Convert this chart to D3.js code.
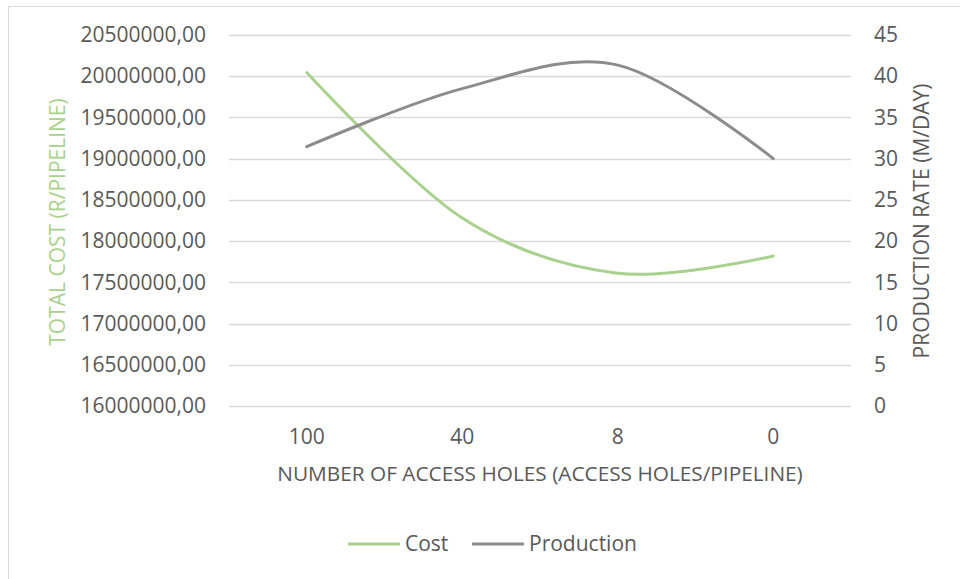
<!DOCTYPE html>
<html>
<head>
<meta charset="utf-8">
<script src="https://cdn.jsdelivr.net/npm/d3@7"></script>
<style>
  html, body { margin: 0; padding: 0; background: #fff; }
  svg text { font-family: "Open Sans", "Noto Sans", sans-serif; }
</style>
</head>
<body>
<svg id="chart" width="960" height="579"></svg>
<script>
// Access holes per pipeline (category order as plotted)
const categories = ["100", "40", "8", "0"];
// Total cost (R/pipeline)
const costValues = [20045000, 18280000, 17610000, 17820000];
// Production rate (m/day)
const productionValues = [31.45, 38.5, 41.35, 30.0];
// Axis ticks
const costTicks = [16000000, 16500000, 17000000, 17500000, 18000000, 18500000, 19000000, 19500000, 20000000, 20500000];
const productionTicks = [0, 5, 10, 15, 20, 25, 30, 35, 40, 45];

const svg = d3.select("#chart");
const plot = { left: 229, right: 851, top: 35, bottom: 406 };

const textGrey = "#595959";
const gridGrey = "#d9d9d9";
const costColor = "#a9d18e";
const prodColor = "#8c8c8c";

// chart frame
svg.append("rect")
  .attr("x", 8.5).attr("y", 6.5)
  .attr("width", 980).attr("height", 600)
  .attr("fill", "#fff").attr("stroke", "#d9d9d9").attr("stroke-width", 1);

const x = d3.scaleBand().domain(categories).range([plot.left, plot.right]);
const yCost = d3.scaleLinear().domain([16000000, 20500000]).range([plot.bottom, plot.top]);
const yProd = d3.scaleLinear().domain([0, 45]).range([plot.bottom, plot.top]);

const fmtCost = d => d3.format(".2f")(d).replace(".", ",");

// gridlines
svg.append("g").selectAll("line").data(costTicks).join("line")
  .attr("x1", plot.left).attr("x2", plot.right)
  .attr("y1", d => Math.round(yCost(d)) + 0.5)
  .attr("y2", d => Math.round(yCost(d)) + 0.5)
  .attr("stroke", gridGrey).attr("stroke-width", 1.3);

// left axis
const leftAxis = svg.append("g")
  .attr("transform", `translate(${plot.left - 23},0)`)
  .call(d3.axisLeft(yCost).tickValues(costTicks).tickFormat(fmtCost).tickSize(0).tickPadding(0));
leftAxis.select(".domain").remove();
leftAxis.selectAll("text").attr("fill", textGrey).style("font-size", "21px")
  .style("font-family", "'Open Sans', sans-serif");

// right axis
const rightAxis = svg.append("g")
  .attr("transform", `translate(${plot.right + 23},0)`)
  .call(d3.axisRight(yProd).tickValues(productionTicks).tickSize(0).tickPadding(0));
rightAxis.select(".domain").remove();
rightAxis.selectAll("text").attr("fill", textGrey).style("font-size", "21px")
  .style("font-family", "'Open Sans', sans-serif");

// bottom axis
const bottomAxis = svg.append("g")
  .attr("transform", `translate(0,${plot.bottom + 23})`)
  .call(d3.axisBottom(x).tickSize(0).tickPadding(0));
bottomAxis.select(".domain").remove();
bottomAxis.selectAll("text").attr("fill", textGrey).style("font-size", "21px")
  .style("font-family", "'Open Sans', sans-serif");

// axis titles
svg.append("text")
  .attr("transform", `translate(65,222) rotate(-90)`)
  .attr("text-anchor", "middle")
  .attr("fill", costColor).style("font-size", "21px")
  .text("TOTAL COST (R/PIPELINE)");

svg.append("text")
  .attr("transform", `translate(929,221) rotate(-90)`)
  .attr("text-anchor", "middle")
  .attr("fill", textGrey).style("font-size", "21px")
  .text("PRODUCTION RATE (M/DAY)");

svg.append("text")
  .attr("x", (plot.left + plot.right) / 2).attr("y", 481)
  .attr("text-anchor", "middle")
  .attr("fill", textGrey).style("font-size", "20.8px")
  .text("NUMBER OF ACCESS HOLES (ACCESS HOLES/PIPELINE)");

// series lines (smoothed)
const cx = d => x(d) + x.bandwidth() / 2;
const costLine = d3.line()
  .x((d, i) => cx(categories[i]))
  .y(d => yCost(d))
  .curve(d3.curveCatmullRom.alpha(0));
const prodLine = d3.line()
  .x((d, i) => cx(categories[i]))
  .y(d => yProd(d))
  .curve(d3.curveCatmullRom.alpha(0));

svg.append("path").datum(costValues)
  .attr("d", costLine).attr("fill", "none")
  .attr("stroke", costColor).attr("stroke-width", 3).attr("stroke-linecap", "round");
svg.append("path").datum(productionValues)
  .attr("d", prodLine).attr("fill", "none")
  .attr("stroke", prodColor).attr("stroke-width", 3).attr("stroke-linecap", "round");

// legend
const legendItems = [
  { name: "Cost", color: costColor, x: 348 },
  { name: "Production", color: prodColor, x: 472 }
];
const lg = svg.append("g").selectAll("g").data(legendItems).join("g")
  .attr("transform", d => `translate(${d.x},544)`);
lg.append("line").attr("x1", 0).attr("x2", 52).attr("y1", 0).attr("y2", 0)
  .attr("stroke", d => d.color).attr("stroke-width", 3);
lg.append("text").attr("x", 57).attr("y", 7)
  .attr("fill", textGrey).style("font-size", "21px")
  .text(d => d.name);
</script>
</body>
</html>
